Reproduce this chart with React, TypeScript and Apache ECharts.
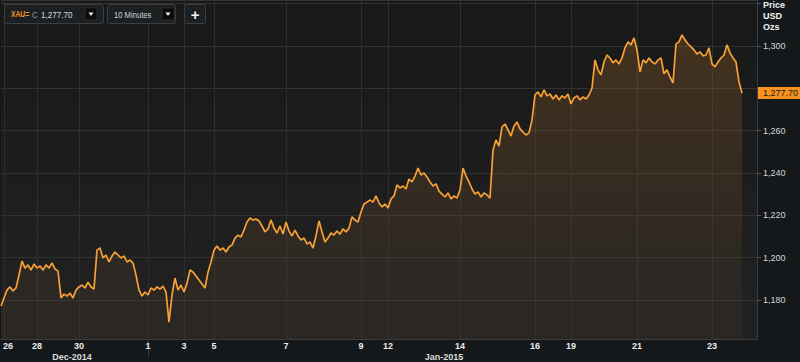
import { useEffect, useRef } from 'react';
import * as echarts from 'echarts';

// X axis: one slot ≈ one chart step of trading time (weekends compressed)
const slotCount = 253;
const categories: string[] = Array.from({ length: slotCount }, (_, i) => `slot${i}`);

// Day tick labels and the slot each sits on
const dayLabels = ['26', '28', '30', '1', '3', '5', '7', '9', '12', '14', '16', '19', '21', '23'];
const dayTickSlots = [1, 12, 26, 49, 61, 71, 95, 120, 129, 153, 178, 190, 212, 237];
const monthBoundarySlot = 49;
const monthLabels = ['Dec-2014', 'Jan-2015'];

// Y tick labels that are shown (1,280 sits under the last-price tag, 1,320 under the unit caption)
const yTickLabels = [1180, 1200, 1220, 1240, 1260, 1300];

// XAU= spot, USD/oz
const goldPrice = [
  1177.1, 1180.9, 1184.6, 1186.1, 1184.2, 1185.6, 1191.7, 1198.3, 1195.0, 1196.5,
  1194.1, 1196.9, 1195.0, 1196.0, 1194.1, 1196.5, 1195.0, 1197.4, 1194.6, 1193.6,
  1180.9, 1182.7, 1181.8, 1183.2, 1180.9, 1184.6, 1186.1, 1187.0, 1185.6, 1188.4,
  1186.1, 1185.1, 1203.5, 1204.5, 1199.8, 1201.2, 1197.9, 1200.7, 1202.6, 1201.2,
  1199.8, 1200.7, 1197.9, 1198.8, 1197.4, 1191.7, 1184.6, 1181.8, 1183.7, 1182.3,
  1185.6, 1184.6, 1186.1, 1185.1, 1186.5, 1183.7, 1169.5, 1182.3, 1190.3, 1184.6,
  1187.0, 1183.7, 1187.9, 1194.1, 1193.1, 1191.3, 1189.4, 1187.5, 1185.6, 1193.1,
  1197.9, 1203.5, 1205.4, 1203.5, 1204.5, 1202.6, 1205.0, 1205.9, 1209.2, 1210.6,
  1209.7, 1213.0, 1216.8, 1218.7, 1217.7, 1218.2, 1217.3, 1214.9, 1212.1, 1213.5,
  1217.7, 1213.9, 1211.6, 1214.9, 1211.1, 1216.8, 1212.5, 1210.2, 1213.0, 1210.2,
  1208.3, 1209.2, 1206.4, 1207.3, 1204.5, 1210.2, 1217.3, 1212.1, 1207.3, 1209.2,
  1211.6, 1210.6, 1212.5, 1211.1, 1213.5, 1212.1, 1213.9, 1219.2, 1217.7, 1216.8,
  1221.5, 1225.3, 1226.2, 1227.2, 1226.2, 1229.1, 1225.8, 1223.9, 1225.3, 1223.4,
  1227.7, 1229.1, 1234.3, 1232.9, 1233.8, 1232.4, 1237.1, 1235.7, 1238.5, 1242.3,
  1239.0, 1240.0, 1238.1, 1235.7, 1233.8, 1234.8, 1231.4, 1230.0, 1228.6, 1230.5,
  1227.7, 1229.1, 1228.1, 1231.9, 1242.3, 1238.5, 1235.7, 1232.4, 1230.0, 1231.0,
  1228.6, 1230.5, 1229.6, 1228.1, 1250.8, 1255.6, 1252.7, 1261.7, 1263.1, 1260.3,
  1257.4, 1262.2, 1264.1, 1260.8, 1259.3, 1257.9, 1258.9, 1265.0, 1276.8, 1278.3,
  1275.9, 1279.2, 1276.4, 1277.3, 1274.9, 1276.8, 1274.5, 1276.4, 1275.4, 1277.3,
  1272.6, 1275.4, 1276.4, 1274.5, 1275.9, 1274.9, 1276.8, 1280.1, 1293.4, 1288.7,
  1286.3, 1292.4, 1295.7, 1294.3, 1292.0, 1293.4, 1291.5, 1294.3, 1299.1, 1301.9,
  1300.5, 1303.8, 1298.1, 1287.7, 1293.4, 1292.0, 1294.3, 1292.4, 1291.5, 1293.4,
  1294.3, 1286.8, 1288.7, 1285.3, 1282.5, 1300.9, 1301.9, 1305.2, 1302.8, 1300.9,
  1299.5, 1298.1, 1296.2, 1297.2, 1295.3, 1295.7, 1299.1, 1291.5, 1290.1, 1292.4,
  1294.3, 1295.7, 1300.5, 1296.7, 1294.3, 1292.4, 1283.0, 1277.7,
];
const lastPrice = 1277.7;

const FONT = 'Liberation Sans, Arial, sans-serif';

export default function App() {
  const ref = useRef<HTMLDivElement>(null);

  useEffect(() => {
    const chart = echarts.init(ref.current!, null, { renderer: 'svg' });
    const labelByCat = new Map<string, string>();
    dayTickSlots.forEach((s, k) => labelByCat.set(categories[s], dayLabels[k]));
    const tickSet = new Set(dayTickSlots);
    const ySet = new Set(yTickLabels);

    const txt = (
      x: number,
      y: number,
      text: string,
      fill: string,
      size: number,
      weight = 'normal',
      align = 'left',
      sx = 1,
    ) => ({
      type: 'text',
      x,
      y,
      scaleX: sx,
      silent: true,
      z: 10,
      style: {
        text,
        fill,
        font: `${weight} ${size}px ${FONT}`,
        align,
        textAlign: align,
        verticalAlign: 'middle',
        textVerticalAlign: 'middle',
      },
    });
    const box = (x: number, y: number, w: number, h: number) => ({
      type: 'rect',
      silent: true,
      z: 9,
      shape: { x, y, width: w, height: h, r: 2 },
      style: { fill: '#1d2023', stroke: '#3a3d41', lineWidth: 1 },
    });
    const dropBtn = (x: number) => [
      {
        type: 'rect',
        silent: true,
        z: 10,
        shape: { x, y: 8, width: 12, height: 12, r: 1 },
        style: { fill: '#0b0b0b', stroke: '#2a2a2a' },
      },
      {
        type: 'polygon',
        silent: true,
        z: 11,
        shape: { points: [[x + 3.5, 12.5], [x + 8.5, 12.5], [x + 6, 16]] },
        style: { fill: '#f0f0f0' },
      },
    ];

    chart.setOption({
      animation: false,
      backgroundColor: '#14181b',
      grid: {
        left: 0,
        right: 43,
        top: 0,
        bottom: 23,
        show: true,
        borderWidth: 0,
        backgroundColor: new echarts.graphic.LinearGradient(0, 0, 0, 1, [
          { offset: 0, color: '#181818' },
          { offset: 1, color: '#222222' },
        ]),
      },
      xAxis: {
        type: 'category',
        data: categories,
        boundaryGap: false,
        axisLine: { show: true, lineStyle: { color: '#3a3d40' } },
        axisTick: {
          show: true,
          interval: (i: number) => i === monthBoundarySlot,
          length: 18,
          lineStyle: { color: '#3a3d40' },
        },
        axisLabel: {
          interval: (i: number) => tickSet.has(i),
          formatter: (v: string) => {
            const l = labelByCat.get(v) ?? '';
            return v === categories[dayTickSlots[0]] ? `{first|${l}}` : l;
          },
          color: '#ececec',
          fontSize: 9,
          fontWeight: 'bold',
          fontFamily: FONT,
          margin: 2,
          rich: {
            first: { padding: [0, 0, 0, 8], color: '#ececec', fontSize: 9, fontWeight: 'bold', fontFamily: FONT },
          },
        },
        splitLine: {
          show: true,
          interval: (i: number) => tickSet.has(i),
          lineStyle: { color: '#2e2e2e', width: 1 },
        },
      },
      yAxis: {
        type: 'value',
        position: 'right',
        min: 1161.5,
        max: 1321.7,
        splitNumber: 8,
        axisLine: { show: true, lineStyle: { color: '#3a3d40' } },
        axisTick: { show: true, length: 4, lineStyle: { color: '#555555' } },
        axisLabel: {
          color: '#d6d6d6',
          fontSize: 9,
          fontFamily: FONT,
          margin: 6,
          showMinLabel: false,
          showMaxLabel: false,
          formatter: (v: number) => (ySet.has(Math.round(v)) ? v.toLocaleString('en-US') : ''),
        },
        splitLine: { show: true, lineStyle: { color: '#323232', width: 1 } },
      },
      series: [
        {
          type: 'line',
          data: goldPrice,
          symbol: 'none',
          lineStyle: { color: '#f7a035', width: 1.7 },
          itemStyle: { color: '#f7a035' },
          areaStyle: {
            color: new echarts.graphic.LinearGradient(0, 0, 0, 1, [
              { offset: 0, color: 'rgba(180,114,42,0.40)' },
              { offset: 1, color: 'rgba(120,90,60,0.12)' },
            ]),
          },
          markLine: {
            silent: true,
            symbol: ['none', 'none'],
            lineStyle: { color: 'rgba(0,0,0,0)', width: 0, type: 'solid' },
            data: [{ yAxis: lastPrice }],
            label: {
              show: true,
              position: 'end',
              distance: 1,
              opacity: 1,
              formatter: () => lastPrice.toLocaleString('en-US', { minimumFractionDigits: 2 }),
              backgroundColor: '#f7931e',
              color: '#1a1a1a',
              fontSize: 9,
              fontFamily: FONT,
              padding: [2, 8, 1, 5],
            },
          },
        },
      ],
      graphic: [
        box(4.5, 4.5, 99, 19),
        txt(11, 14.5, 'XAU=', '#f7931e', 9, 'bold', 'left', 0.75),
        txt(32, 14.5, 'C', '#9a9a9a', 9, 'normal', 'left', 0.85),
        txt(41, 14.5, '1,277.70', '#dcdcdc', 9, 'normal', 'left', 0.9),
        ...dropBtn(85),
        box(107.5, 4.5, 68, 19),
        txt(114, 14.5, '10 Minutes', '#cfcfcf', 9, 'normal', 'left', 0.85),
        ...dropBtn(162),
        box(184.5, 4.5, 21, 19),
        txt(195, 14, '+', '#f2f2f2', 15, 'bold', 'center'),
        txt(763, 5, 'Price', '#f2f2f2', 9, 'bold'),
        txt(763, 16, 'USD', '#f2f2f2', 9, 'bold'),
        txt(763, 27, 'Ozs', '#f2f2f2', 9, 'bold'),
        txt(72, 356.5, monthLabels[0], '#dcdcdc', 9, 'bold', 'center'),
        txt(444, 356.5, monthLabels[1], '#dcdcdc', 9, 'bold', 'center'),
      ],
    });
    return () => chart.dispose();
  }, []);

  return (
    <div
      ref={ref}
      style={{ position: 'fixed', left: 0, top: 0, width: 800, height: 362, background: '#14181b' }}
    />
  );
}
